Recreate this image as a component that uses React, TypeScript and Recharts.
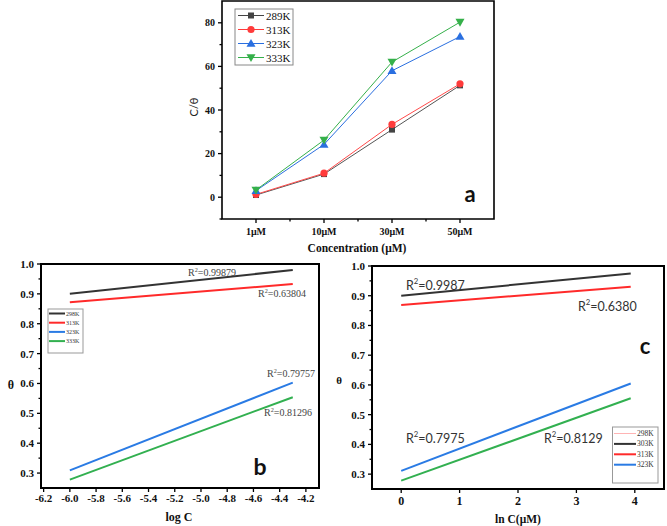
import React from "react";
import { LineChart, Line, XAxis, YAxis, ReferenceArea } from "recharts";

const SERIF = '"Liberation Serif", "DejaVu Serif", serif';
const SANS = 'Lato, "Liberation Sans", sans-serif';

// ---- panel a: C/θ vs concentration
const concLabels = ["1μM", "10μM", "30μM", "50μM"];
const concIndex = [0, 1, 2, 3];
const cTheta289 = [1.0, 10.6, 31.0, 51.3];
const cTheta313 = [1.3, 11.0, 33.4, 52.0];
const cTheta323 = [3.0, 24.2, 58.0, 73.7];
const cTheta333 = [3.3, 26.2, 62.0, 80.3];
const aYMajor = [0, 20, 40, 60, 80];
const aYMinor = [-10, 10, 30, 50, 70];
const aXMinor = [0.5, 1.5, 2.5];

// ---- panel b: θ vs log C
const logC = [-6.0, -4.3];
const thetaB298 = [0.9, 0.98];
const thetaB313 = [0.872, 0.933];
const thetaB323 = [0.309, 0.603];
const thetaB333 = [0.278, 0.554];
const bXMajor = [-6.2, -6.0, -5.8, -5.6, -5.4, -5.2, -5.0, -4.8, -4.6, -4.4, -4.2];
const thetaMajor = [0.3, 0.4, 0.5, 0.6, 0.7, 0.8, 0.9, 1.0];
const thetaMinor = [0.35, 0.45, 0.55, 0.65, 0.75, 0.85, 0.95];

// ---- panel c: θ vs ln C
const lnC = [0, 3.93];
const thetaC303 = [0.9, 0.975];
const thetaC313 = [0.869, 0.93];
const thetaC323 = [0.311, 0.605];
const thetaC333 = [0.278, 0.555];
const cXMajor = [0, 1, 2, 3, 4];

const dataA = concIndex.map((x, i) => ({
  x,
  t289: cTheta289[i],
  t313: cTheta313[i],
  t323: cTheta323[i],
  t333: cTheta333[i],
}));
const dataB = logC.map((x, i) => ({
  x,
  t298: thetaB298[i],
  t313: thetaB313[i],
  t323: thetaB323[i],
  t333: thetaB333[i],
}));
const dataC = lnC.map((x, i) => ({
  x,
  t303: thetaC303[i],
  t313: thetaC313[i],
  t323: thetaC323[i],
  t333: thetaC333[i],
}));

const isIn = (arr: number[], v: number) => arr.some((m) => Math.abs(m - v) < 1e-6);

function leftTick(major: number[], fmt: (v: number) => string, fontSize: number) {
  return (p: any) => {
    const v = p.payload.value;
    const maj = isIn(major, v);
    const len = maj ? 4 : 2.5;
    return (
      <g>
        <line x1={p.x} y1={p.y} x2={p.x - len} y2={p.y} stroke="#000" strokeWidth={1.3} />
        {maj && (
          <text
            x={p.x - 7}
            y={p.y}
            textAnchor="end"
            dominantBaseline="central"
            fontFamily={SERIF}
            fontWeight="bold"
            fontSize={fontSize}
            fill="#111"
          >
            {fmt(v)}
          </text>
        )}
      </g>
    );
  };
}

function bottomTick(major: number[], fmt: (v: number) => string, fontSize: number, gap: number) {
  return (p: any) => {
    const v = p.payload.value;
    const maj = isIn(major, v);
    const len = maj ? 4 : 2.5;
    return (
      <g>
        <line x1={p.x} y1={p.y} x2={p.x} y2={p.y + len} stroke="#000" strokeWidth={1.3} />
        {maj && (
          <text
            x={p.x}
            y={p.y + gap}
            textAnchor="middle"
            dominantBaseline="central"
            fontFamily={SERIF}
            fontWeight="bold"
            fontSize={fontSize}
            fill="#111"
          >
            {fmt(v)}
          </text>
        )}
      </g>
    );
  };
}

const squareDot = (color: string) => (p: any) => (
  <rect key={p.index} x={p.cx - 3} y={p.cy - 3} width={6} height={6} fill={color} />
);
const circleDot = (color: string) => (p: any) => (
  <circle key={p.index} cx={p.cx} cy={p.cy} r={3.6} fill={color} />
);
const triUpDot = (color: string) => (p: any) => (
  <path
    key={p.index}
    d={`M${p.cx},${p.cy - 4.5}L${p.cx + 4.5},${p.cy + 3.3}L${p.cx - 4.5},${p.cy + 3.3}Z`}
    fill={color}
  />
);
const triDownDot = (color: string) => (p: any) => (
  <path
    key={p.index}
    d={`M${p.cx},${p.cy + 4.5}L${p.cx + 4.5},${p.cy - 3.3}L${p.cx - 4.5},${p.cy - 3.3}Z`}
    fill={color}
  />
);

function R2({ x, y, value, size, family, fill }: any) {
  return (
    <text x={x} y={y} fontFamily={family} fontSize={size} fill={fill} dominantBaseline="central">
      R
      <tspan dy={-size * 0.35} fontSize={size * 0.62}>
        2
      </tspan>
      <tspan dy={size * 0.35}>={value}</tspan>
    </text>
  );
}

const legendA = [
  { name: "289K", color: "#444", dot: "square" },
  { name: "313K", color: "#ff3b3b", dot: "circle" },
  { name: "323K", color: "#2a6fe0", dot: "up" },
  { name: "333K", color: "#35b04a", dot: "down" },
];
const legendB = [
  { name: "298K", color: "#333", w: 2 },
  { name: "313K", color: "#ff2a2a", w: 2 },
  { name: "323K", color: "#2a7be4", w: 2 },
  { name: "333K", color: "#32b050", w: 2 },
];
const legendC = [
  { name: "298K", color: "#ffb4b4", w: 1 },
  { name: "303K", color: "#333", w: 2 },
  { name: "313K", color: "#ff2a2a", w: 2 },
  { name: "323K", color: "#2a7be4", w: 2 },
];

export default function App() {
  return (
    <div style={{ position: "absolute", left: 0, top: 0, width: 667, height: 526, background: "#fff" }}>
      {/* panel a */}
      <div style={{ position: "absolute", left: 180, top: 0 }}>
        <LineChart width={330} height={260} data={dataA} margin={{ top: 1, right: 16, left: 0, bottom: 0 }}>
          <XAxis
            type="number"
            dataKey="x"
            domain={[-0.5, 3.5]}
            allowDataOverflow
            ticks={[...concIndex, ...aXMinor]}
            interval={0}
            height={41}
            axisLine={false}
            tickLine={false}
            tickSize={0}
            tickMargin={0}
            tick={bottomTick(concIndex, (v) => concLabels[v], 10, 12)}
          />
          <YAxis
            type="number"
            domain={[-10, 90]}
            allowDataOverflow
            ticks={[...aYMajor, ...aYMinor]}
            interval={0}
            width={42}
            axisLine={false}
            tickLine={false}
            tickSize={0}
            tickMargin={0}
            tick={leftTick(aYMajor, (v) => String(v), 10)}
          />
          <ReferenceArea x1={-0.5} x2={3.5} y1={-10} y2={90} fill="none" stroke="#000" strokeWidth={1.6} />
          <Line dataKey="t289" stroke="#555" strokeWidth={1} dot={squareDot("#444")} isAnimationActive={false} />
          <Line dataKey="t313" stroke="#ff4a4a" strokeWidth={1} dot={circleDot("#ff3b3b")} isAnimationActive={false} />
          <Line dataKey="t323" stroke="#2a6fe0" strokeWidth={1} dot={triUpDot("#2a6fe0")} isAnimationActive={false} />
          <Line dataKey="t333" stroke="#35b04a" strokeWidth={1} dot={triDownDot("#35b04a")} isAnimationActive={false} />
        </LineChart>
      </div>

      {/* panel b */}
      <div style={{ position: "absolute", left: 0, top: 250 }}>
        <LineChart width={330} height={276} data={dataB} margin={{ top: 14, right: 11, left: 0, bottom: 0 }}>
          <XAxis
            type="number"
            dataKey="x"
            domain={[-6.22, -4.1]}
            allowDataOverflow
            ticks={bXMajor}
            interval={0}
            height={38}
            axisLine={false}
            tickLine={false}
            tickSize={0}
            tickMargin={0}
            tick={bottomTick(bXMajor, (v) => v.toFixed(1), 11, 10)}
          />
          <YAxis
            type="number"
            domain={[0.25, 1.0]}
            allowDataOverflow
            ticks={[...thetaMajor, ...thetaMinor]}
            interval={0}
            width={41}
            axisLine={false}
            tickLine={false}
            tickSize={0}
            tickMargin={0}
            tick={leftTick(thetaMajor, (v) => v.toFixed(1), 11)}
          />
          <ReferenceArea x1={-6.22} x2={-4.1} y1={0.25} y2={1.0} fill="none" stroke="#000" strokeWidth={2} />
          <Line dataKey="t298" stroke="#333" strokeWidth={2} dot={false} isAnimationActive={false} />
          <Line dataKey="t313" stroke="#ff2a2a" strokeWidth={2} dot={false} isAnimationActive={false} />
          <Line dataKey="t323" stroke="#2a7be4" strokeWidth={2} dot={false} isAnimationActive={false} />
          <Line dataKey="t333" stroke="#32b050" strokeWidth={2} dot={false} isAnimationActive={false} />
        </LineChart>
      </div>

      {/* panel c */}
      <div style={{ position: "absolute", left: 330, top: 250 }}>
        <LineChart width={337} height={276} data={dataC} margin={{ top: 16, right: 3, left: 0, bottom: 0 }}>
          <XAxis
            type="number"
            dataKey="x"
            domain={[-0.5, 4.5]}
            allowDataOverflow
            ticks={cXMajor}
            interval={0}
            height={37}
            axisLine={false}
            tickLine={false}
            tickSize={0}
            tickMargin={0}
            tick={bottomTick(cXMajor, (v) => v.toFixed(0), 12, 12)}
          />
          <YAxis
            type="number"
            domain={[0.25, 1.0]}
            allowDataOverflow
            ticks={[...thetaMajor, ...thetaMinor]}
            interval={0}
            width={42}
            axisLine={false}
            tickLine={false}
            tickSize={0}
            tickMargin={0}
            tick={leftTick(thetaMajor, (v) => v.toFixed(1), 11)}
          />
          <ReferenceArea x1={-0.5} x2={4.5} y1={0.25} y2={1.0} fill="none" stroke="#000" strokeWidth={2} />
          <Line dataKey="t303" stroke="#333" strokeWidth={2} dot={false} isAnimationActive={false} />
          <Line dataKey="t313" stroke="#ff2a2a" strokeWidth={2} dot={false} isAnimationActive={false} />
          <Line dataKey="t323" stroke="#2a7be4" strokeWidth={2} dot={false} isAnimationActive={false} />
          <Line dataKey="t333" stroke="#32b050" strokeWidth={2} dot={false} isAnimationActive={false} />
        </LineChart>
      </div>

      {/* labels, legends and annotations */}
      <svg width={667} height={526} style={{ position: "absolute", left: 0, top: 0, pointerEvents: "none" }}>
        {/* a */}
        <text x={193} y={107} transform="rotate(-90 193 107)" textAnchor="middle" dominantBaseline="central" fontFamily={SANS} fontSize={11} fill="#222">
          C/θ
        </text>
        <text x={357} y={248} textAnchor="middle" dominantBaseline="central" fontFamily={SERIF} fontWeight="bold" fontSize={11.5} fill="#111">
          Concentration (μM)
        </text>
        <text x={470} y={193} textAnchor="middle" dominantBaseline="central" fontFamily={SANS} fontWeight="bold" fontSize={22} fill="#111">
          a
        </text>
        <rect x={235} y={9} width={58} height={56} fill="#fff" stroke="#888" strokeWidth={1} />
        {legendA.map((e, i) => {
          const y = 15.5 + i * 14;
          const cx = 251;
          return (
            <g key={e.name}>
              <line x1={238} y1={y} x2={264} y2={y} stroke={e.color} strokeWidth={1} />
              {e.dot === "square" && <rect x={cx - 3} y={y - 3} width={6} height={6} fill={e.color} />}
              {e.dot === "circle" && <circle cx={cx} cy={y} r={3.6} fill={e.color} />}
              {e.dot === "up" && <path d={`M${cx},${y - 4.5}L${cx + 4.5},${y + 3.3}L${cx - 4.5},${y + 3.3}Z`} fill={e.color} />}
              {e.dot === "down" && <path d={`M${cx},${y + 4.5}L${cx + 4.5},${y - 3.3}L${cx - 4.5},${y - 3.3}Z`} fill={e.color} />}
              <text x={266} y={y} dominantBaseline="central" fontFamily={SERIF} fontSize={11} fill="#111">
                {e.name}
              </text>
            </g>
          );
        })}

        {/* b */}
        <text x={11} y={385} textAnchor="middle" dominantBaseline="central" fontFamily={SERIF} fontWeight="bold" fontSize={12} fill="#111">
          θ
        </text>
        <text x={179} y={517} textAnchor="middle" dominantBaseline="central" fontFamily={SERIF} fontWeight="bold" fontSize={12} fill="#111">
          log C
        </text>
        <R2 x={188} y={272} value="0.99879" size={10} family={SERIF} fill="#444" />
        <R2 x={258} y={293} value="0.63804" size={10} family={SERIF} fill="#444" />
        <R2 x={267} y={373} value="0.79757" size={10} family={SERIF} fill="#444" />
        <R2 x={264} y={412} value="0.81296" size={10} family={SERIF} fill="#444" />
        <text x={260} y={466} textAnchor="middle" dominantBaseline="central" fontFamily={SANS} fontWeight="bold" fontSize={23} fill="#111">
          b
        </text>
        <rect x={48} y={309} width={35} height={44} fill="#fff" stroke="#999" strokeWidth={1} />
        {legendB.map((e, i) => {
          const y = 313.5 + i * 9.2;
          return (
            <g key={e.name}>
              <line x1={49} y1={y} x2={65} y2={y} stroke={e.color} strokeWidth={e.w} />
              <text x={66} y={y} dominantBaseline="central" fontFamily={SERIF} fontSize={6} fill="#333">
                {e.name}
              </text>
            </g>
          );
        })}

        {/* c */}
        <text x={339} y={380} textAnchor="middle" dominantBaseline="central" fontFamily={SERIF} fontWeight="bold" fontSize={11} fill="#111">
          θ
        </text>
        <text x={518} y={519} textAnchor="middle" dominantBaseline="central" fontFamily={SERIF} fontWeight="bold" fontSize={11.5} fill="#111">
          ln C(μM)
        </text>
        <R2 x={406} y={285} value="0.9987" size={12.5} family={SANS} fill="#333" />
        <R2 x={578} y={306} value="0.6380" size={12.5} family={SANS} fill="#333" />
        <R2 x={406} y={438} value="0.7975" size={12.5} family={SANS} fill="#333" />
        <R2 x={544} y={438} value="0.8129" size={12.5} family={SANS} fill="#333" />
        <text x={645} y={345} textAnchor="middle" dominantBaseline="central" fontFamily={SANS} fontWeight="bold" fontSize={22} fill="#111">
          c
        </text>
        <rect x={612.5} y={427} width={45.5} height={56} fill="#fff" stroke="#999" strokeWidth={1} />
        {legendC.map((e, i) => {
          const y = 433.5 + i * 10.4;
          return (
            <g key={e.name}>
              <line x1={614} y1={y} x2={636} y2={y} stroke={e.color} strokeWidth={e.w} />
              <text x={637} y={y} dominantBaseline="central" fontFamily={SERIF} fontSize={7.5} fill="#333">
                {e.name}
              </text>
            </g>
          );
        })}
      </svg>
    </div>
  );
}
